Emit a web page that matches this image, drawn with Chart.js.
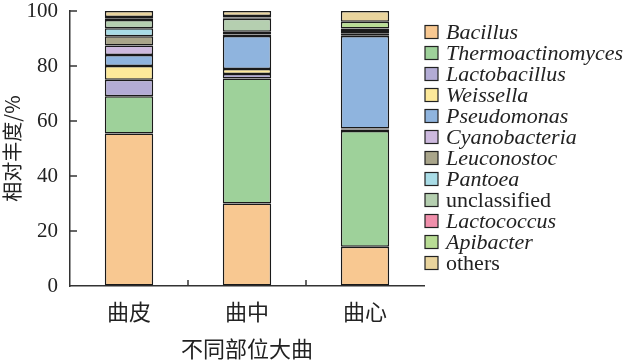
<!DOCTYPE html>
<html>
<head>
<meta charset="utf-8">
<script src="https://cdn.jsdelivr.net/npm/chart.js@4"></script>
<style>
  body { margin: 0; background: #fff; }
  #wrap { width: 625px; height: 362px; }
</style>
</head>
<body>
<div id="wrap"><canvas id="grafico"></canvas></div>
<script>
// categorías (partes del daqu)
const categorias = ['曲皮', '曲中', '曲心'];

// abundancia relativa (%) por género
const bacillus = [55.5, 30.0, 14.3];
const thermoactinomyces = [13.5, 45.5, 42.1];
const lactobacillus = [6.0, 1.6, 0.5];
const weissella = [5.0, 1.8, 0.4];
const pseudomonas = [4.0, 12.0, 33.6];
const cyanobacteria = [3.5, 0.6, 0.3];
const leuconostoc = [3.3, 0.5, 0.4];
const pantoea = [2.9, 0.5, 0.3];
const unclassified = [3.0, 4.7, 0.8];
const lactococcus = [0.5, 0.4, 0.9];
const apibacter = [0.6, 0.6, 2.5];
const others = [2.2, 1.8, 3.9];

const ticksY = [0, 20, 40, 60, 80, 100];

const series = [
    ['Bacillus', bacillus, '#f8c891'],
    ['Thermoactinomyces', thermoactinomyces, '#9ed19a'],
    ['Lactobacillus', lactobacillus, '#b3acd5'],
    ['Weissella', weissella, '#fde99a'],
    ['Pseudomonas', pseudomonas, '#8fb4de'],
    ['Cyanobacteria', cyanobacteria, '#cdb9de'],
    ['Leuconostoc', leuconostoc, '#a9a58a'],
    ['Pantoea', pantoea, '#a9dce6'],
    ['unclassified', unclassified, '#b5cfb0'],
    ['Lactococcus', lactococcus, '#f08fab'],
    ['Apibacter', apibacter, '#b8dc94'],
    ['others', others, '#e9d49d']
];

const noCursiva = ['unclassified', 'others'];

// marcas hacia adentro + leyenda dibujada a mano (fuente mixta)
const extras = {
    id: 'extras',
    afterDraw(chart) {
        const ctx = chart.ctx;
        const area = chart.chartArea;
        const x = chart.scales.x;
        const y = chart.scales.y;
        ctx.save();
        ctx.strokeStyle = '#333';
        ctx.lineWidth = 1.5;
        ticksY.forEach(v => {
            if (v === 0) return;
            const py = y.getPixelForValue(v);
            ctx.beginPath();
            ctx.moveTo(area.left, py);
            ctx.lineTo(area.left + 7, py);
            ctx.stroke();
        });
        for (let i = 1; i < categorias.length; i++) {
            const px = (x.getPixelForValue(i - 1) + x.getPixelForValue(i)) / 2;
            ctx.beginPath();
            ctx.moveTo(px, area.bottom);
            ctx.lineTo(px, area.bottom - 6);
            ctx.stroke();
        }

        // leyenda
        ctx.textBaseline = 'middle';
        ctx.textAlign = 'left';
        chart.data.datasets.forEach((ds, i) => {
            const cy = 32 + i * 21;
            ctx.fillStyle = ds.backgroundColor;
            ctx.fillRect(425, cy - 6.5, 13, 13);
            ctx.lineWidth = 1.2;
            ctx.strokeStyle = '#222';
            ctx.strokeRect(425, cy - 6.5, 13, 13);
            const estilo = noCursiva.includes(ds.label) ? '' : 'italic ';
            ctx.font = estilo + '22px "Liberation Serif", serif';
            ctx.fillStyle = '#222';
            ctx.fillText(ds.label, 446, cy + 1);
        });
        ctx.restore();
    }
};

const ctx = document.getElementById('grafico').getContext('2d');
const grafico = new Chart(ctx, {
    type: 'bar',
    data: {
        labels: categorias,
        datasets: series.map(s => ({
            label: s[0],
            data: s[1],
            backgroundColor: s[2],
            borderColor: '#1a1a1a',
            borderWidth: 1.5,
            borderSkipped: false,
            categoryPercentage: 1,
            barPercentage: 0.41
        }))
    },
    options: {
        responsive: true,
        maintainAspectRatio: false,
        animation: false,
        layout: { padding: { top: 11, right: 201, left: 0, bottom: 0 } },
        plugins: {
            legend: { display: false },
            tooltip: { enabled: false }
        },
        scales: {
            x: {
                stacked: true,
                grid: { drawOnChartArea: false, drawTicks: false },
                border: { color: '#333', width: 1.5 },
                ticks: {
                    color: '#222',
                    padding: 12,
                    font: { family: '"Noto Sans CJK SC"', size: 22 }
                },
                title: {
                    display: true,
                    text: '不同部位大曲',
                    color: '#222',
                    font: { family: '"Noto Sans CJK SC"', size: 22 },
                    padding: { top: 0, bottom: 0 }
                },
                afterFit: function(scale) {
                    scale.height = 76;
                    scale.paddingLeft = 0;
                    scale.paddingRight = 0;
                }
            },
            y: {
                stacked: true,
                min: 0,
                max: 100,
                grid: { drawOnChartArea: false, drawTicks: false },
                border: { color: '#333', width: 1.5 },
                ticks: {
                    stepSize: 20,
                    color: '#222',
                    padding: 12,
                    font: { family: '"Liberation Serif", serif', size: 21 }
                },
                title: {
                    display: true,
                    text: '相对丰度/%',
                    color: '#222',
                    font: { family: '"Noto Sans CJK SC"', size: 20 },
                    padding: { top: 0, bottom: 0 }
                },
                afterFit: function(scale) {
                    scale.width = 70;
                    scale.paddingTop = 0;
                    scale.paddingBottom = 0;
                }
            }
        }
    },
    plugins: [extras]
});
</script>
</body>
</html>
